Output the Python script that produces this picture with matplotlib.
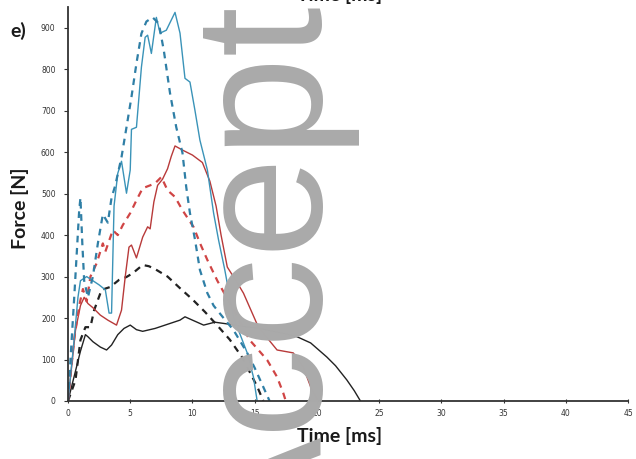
import numpy as np
import matplotlib.pyplot as plt

# force-time traces (t in ms, F in N)
t_blue_solid = [0, 0.5, 0.8, 1.0, 1.5, 2.5, 3.0, 3.3, 3.5, 3.7, 4.0, 4.3, 4.7, 5.0, 5.1, 5.5, 5.9,
                6.2, 6.4, 6.7, 7.1, 7.4, 7.9, 8.6, 9.0, 9.4, 9.8, 10.2, 10.6, 11.2, 11.7, 12.1,
                12.6, 13.3, 14.4, 14.9, 15.2]
F_blue_solid = [0, 150, 250, 290, 300, 280, 268, 212, 212, 470, 549, 578, 501, 557, 655, 660, 805,
                877, 882, 838, 925, 887, 894, 937, 887, 778, 769, 701, 629, 557, 453, 388,
                316, 202, 116, 58, 0]

t_blue_dash = [0, 0.5, 0.9, 1.0, 1.15, 1.3, 1.6, 2.0, 2.4, 2.8, 3.2, 3.5, 3.8, 4.3, 4.7, 5.1, 5.5,
               5.9, 6.3, 6.8, 7.3, 7.7, 8.2, 8.7, 9.2, 9.5, 9.8, 10.2, 10.6, 11.2, 11.7, 12.5,
               13.3, 14.4, 15.0, 15.6, 16.2]
F_blue_dash = [0, 250, 460, 490, 380, 290, 250, 300, 380, 450, 430, 490, 520, 588, 660, 733, 814,
               886, 915, 925, 910, 845, 742, 660, 598, 516, 453, 390, 316, 260, 230, 200,
               171, 116, 80, 40, 0]

t_red_solid = [0, 0.6, 1.0, 1.3, 1.6, 2.0, 2.6, 3.2, 3.9, 4.3, 4.6, 4.9, 5.1, 5.5, 6.0, 6.4, 6.6,
               6.9, 7.2, 7.6, 8.0, 8.3, 8.6, 9.2, 10.0, 10.8, 11.4, 11.9, 12.3, 12.8, 13.5,
               14.1, 15.3, 16.8, 18.1, 18.9, 19.5, 20.1]
F_red_solid = [0, 170, 230, 250, 235, 225, 207, 195, 183, 219, 300, 371, 376, 345, 395, 420, 415,
               480, 520, 535, 560, 590, 615, 605, 593, 575, 530, 470, 400, 323, 290,
               260, 178, 123, 116, 82, 34, 0]

t_red_dash = [0, 0.5, 0.9, 1.2, 1.5, 1.8, 2.3, 2.8, 3.0, 3.6, 4.0, 4.4, 5.0, 5.5, 6.0, 6.6, 7.0,
              7.5, 8.0, 8.6, 9.2, 10.1, 10.6, 11.2, 12.0, 13.0, 14.6, 16.0, 16.8, 17.3, 17.5]
F_red_dash = [0, 150, 230, 270, 240, 300, 332, 380, 360, 412, 400, 424, 453, 484, 513, 520, 525,
              540, 508, 492, 460, 419, 381, 340, 290, 236, 147, 99, 58, 19, 0]

t_black_solid = [0, 0.5, 1.0, 1.4, 1.6, 2.0, 2.6, 3.1, 3.5, 4.0, 4.5, 5.0, 5.5, 6.0, 7.0, 8.0,
                 9.0, 9.4, 10.0, 10.9, 11.8, 13.0, 14.0, 15.2, 16.5, 17.5, 18.4, 19.5, 20.8,
                 21.5, 22.4, 23.0, 23.5]
F_black_solid = [0, 60, 120, 160, 155, 143, 130, 123, 135, 160, 175, 183, 172, 168, 175, 185,
                 195, 203, 195, 183, 190, 185, 180, 176, 168, 162, 155, 140, 106,
                 85, 51, 25, 0]

t_black_dash = [0, 0.6, 1.0, 1.4, 1.8, 2.1, 2.7, 3.4, 4.1, 4.7, 5.2, 6.0, 6.5, 7.0, 8.0, 9.0,
                10.0, 11.0, 12.0, 13.0, 14.0, 14.6, 15.2, 15.7]
F_black_dash = [0, 50, 147, 178, 178, 219, 268, 275, 292, 299, 308, 328, 325, 318, 300, 272,
                245, 215, 182, 148, 105, 70, 35, 0]

xticks = np.arange(0, 46, 5)
yticks = np.arange(0, 901, 100)

fig = plt.figure(figsize=(6.36, 4.59), dpi=100)
ax = fig.add_axes([68/636, 1 - 401/459, 560/636, (401 - 7)/459])

ax.plot(t_black_solid, F_black_solid, color='#222222', lw=1.0)
ax.plot(t_black_dash, F_black_dash, color='#222222', lw=1.6, ls=(0, (3, 2.5)))
ax.plot(t_red_solid, F_red_solid, color='#b83a3a', lw=1.0)
ax.plot(t_red_dash, F_red_dash, color='#d04545', lw=1.6, ls=(0, (3, 2.5)))
ax.plot(t_blue_solid, F_blue_solid, color='#3a93b8', lw=1.0)
ax.plot(t_blue_dash, F_blue_dash, color='#2f7fa6', lw=1.6, ls=(0, (3, 2.5)))

ax.set_xlim(0, 45)
ax.set_ylim(0, 950)
ax.set_xticks(xticks)
ax.set_yticks(yticks)
ax.tick_params(axis='both', labelsize=5.5, labelcolor='#333333', color='#333333',
               length=3, width=0.8)
ax.tick_params(axis='x', direction='inout', pad=4)
ax.tick_params(axis='y', direction='out', pad=6)
ax.spines['right'].set_visible(False)
ax.spines['top'].set_visible(False)
for s in ['left', 'bottom']:
    ax.spines[s].set_color('#333333')
    ax.spines[s].set_linewidth(1.3)

lab = dict(family='Lato', weight='bold', fontsize=14, color='#1a1a1a')
fig.text(340/636, 1 - 436/459, 'Time [ms]', ha='center', va='center', **lab)
fig.text(20/636, 1 - 208/459, 'Force [N]', ha='center', va='center', rotation=90, **lab)
fig.text(18/636, 1 - 31/459, 'e)', ha='center', va='center', **lab)
# x label of the panel above, cut by the top edge
fig.text(340/636, 1 - 0.5/459, 'Time [ms]', ha='center', va='baseline', **lab)

# watermark
fig.text(322/636, 1 - 557/459, 'Accepted', family='Liberation Sans', fontsize=130,
         color='#aaaaaa', rotation=90, rotation_mode='anchor', ha='left', va='baseline',
         zorder=10)

fig.savefig('out.png', dpi=100)
